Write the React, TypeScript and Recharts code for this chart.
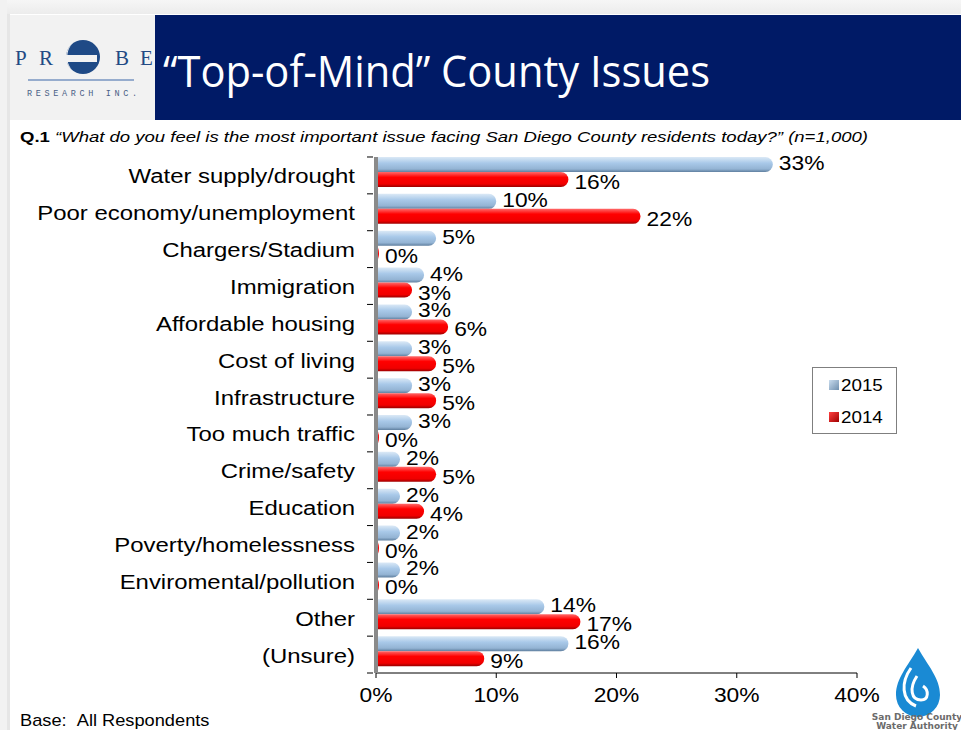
import { BarChart, Bar, XAxis, YAxis, LabelList } from "recharts";

const categories = [
  "Water supply/drought",
  "Poor economy/unemployment",
  "Chargers/Stadium",
  "Immigration",
  "Affordable housing",
  "Cost of living",
  "Infrastructure",
  "Too much traffic",
  "Crime/safety",
  "Education",
  "Poverty/homelessness",
  "Enviromental/pollution",
  "Other",
  "(Unsure)",
];
const values2015 = [33, 10, 5, 4, 3, 3, 3, 3, 2, 2, 2, 2, 14, 16];
const values2014 = [16, 22, 0, 3, 6, 5, 5, 0, 5, 4, 0, 0, 17, 9];
const xTicks = [0, 10, 20, 30, 40];

const data = categories.map((name, i) => ({
  name,
  y2015: values2015[i],
  y2014: values2014[i],
}));

const FONT = '"Liberation Sans", Arial, Helvetica, sans-serif';
const BAND = 36.86;
const DEPTH = 3;
const STRETCH = 1.14; // the slide text is drawn a bit wide

// svg text stretched horizontally around its anchor
const WideText = ({ x, y, anchor = "start", size, children, baseline = "central" }: any) => (
  <text
    transform={`translate(${x},${y}) scale(${STRETCH},1)`}
    textAnchor={anchor}
    dominantBaseline={baseline}
    fontSize={size}
    fontFamily={FONT}
    fill="#000"
  >
    {children}
  </text>
);

// cylinder-ish bar with a rounded right end, nudged up for the 3D depth
const RoundBar = (props: any) => {
  const { x, y, width, height, fill } = props;
  if (!width || width <= 0) return null;
  const top = y - DEPTH;
  const r = Math.min(height / 2, width);
  const d = `M${x},${top} H${x + width - r} A${r},${height / 2} 0 0 1 ${x + width - r},${top + height} H${x} Z`;
  return <path d={d} fill={fill} />;
};

const barLabel = (dy: number) => (props: any) => {
  const { x, y, width, height, value } = props;
  return (
    <WideText x={x + width + 6} y={y + height / 2 + dy} size={20}>
      {value}%
    </WideText>
  );
};

const CategoryTick = (props: any) => {
  const { x, y, payload, index } = props;
  const ax = x + 16;
  return (
    <g>
      <WideText x={x} y={y + 1} anchor="end" size={21}>
        {payload.value}
      </WideText>
      <line x1={ax - 4} x2={ax + 2} y1={y - BAND / 2} y2={y - BAND / 2} stroke="#000" />
      {index === categories.length - 1 && (
        <line x1={ax - 4} x2={ax + 2} y1={y + BAND / 2} y2={y + BAND / 2} stroke="#000" />
      )}
    </g>
  );
};

const PercentTick = (props: any) => {
  const { x, y, payload } = props;
  return (
    <WideText x={x} y={y + 9} anchor="middle" size={20}>
      {payload.value}%
    </WideText>
  );
};

const LegendBox = () => (
  <svg width={86} height={68} style={{ position: "absolute", left: 812, top: 367 }}>
    <rect x={0.5} y={0.5} width={84} height={66} fill="#fff" stroke="#7f7f7f" />
    <defs>
      <linearGradient id="lgBlue" x1="0" y1="0" x2="1" y2="1">
        <stop offset="0%" stopColor="#c9dcee" />
        <stop offset="100%" stopColor="#6f8fae" />
      </linearGradient>
      <linearGradient id="lgRed" x1="0" y1="0" x2="1" y2="1">
        <stop offset="0%" stopColor="#ff4040" />
        <stop offset="100%" stopColor="#a00000" />
      </linearGradient>
    </defs>
    <rect x={17} y={13} width={10} height={10} fill="url(#lgBlue)" />
    <WideText x={29} y={18} size={16.5}>2015</WideText>
    <rect x={17} y={45} width={10} height={10} fill="url(#lgRed)" />
    <WideText x={29} y={50} size={16.5}>2014</WideText>
  </svg>
);

const ProbeLogo = () => (
  <svg width={145} height={105} style={{ position: "absolute", left: 10, top: 15 }}>
    <rect width={145} height={105} fill="#f2f2f2" />
    <g fontFamily='"Liberation Serif", "DejaVu Serif", serif' fontSize={21} fill="#234a84">
      <text x={5} y={50}>P</text>
      <text x={29} y={50}>R</text>
      <text x={105} y={50}>B</text>
      <text x={130} y={50}>E</text>
    </g>
    <circle cx={73} cy={42} r={17} fill="#1f4a86" />
    <rect x={56} y={40} width={31} height={7} fill="#f2f2f2" />
    <path d="M62,29 A17,17 0 0 0 62,55 A20,20 0 0 1 62,29 Z" fill="#f2f2f2" />
    <line x1={18} y1={65} x2={124} y2={65} stroke="#3b67a8" strokeWidth={1} />
    <text
      x={17}
      y={81}
      fontFamily='"Liberation Mono", "DejaVu Sans Mono", monospace'
      fontSize={8.5}
      fill="#4a5f86"
      textLength={110}
      lengthAdjust="spacing"
    >
      RESEARCH INC.
    </text>
  </svg>
);

const WaterLogo = () => (
  <svg width={90} height={90} style={{ position: "absolute", left: 871, top: 640 }}>
    <path d="M47,8 C37,26 25,38 25,55 A22,22 0 0 0 69,55 C69,38 57,26 47,8 Z" fill="#1a8ad4" />
    <path d="M40,28 C30,42 30,60 45,66" stroke="#fff" strokeWidth={3} fill="none" />
    <path d="M46,36 C38,48 40,60 50,60 C58,60 58,50 52,46" stroke="#fff" strokeWidth={3} fill="none" />
    <text x={46} y={80} textAnchor="middle" fontFamily='"DejaVu Sans", sans-serif' fontWeight="bold" fontSize={9} fill="#6b6b6b">
      San Diego County
    </text>
    <text x={46} y={89} textAnchor="middle" fontFamily='"DejaVu Sans", sans-serif' fontWeight="bold" fontSize={9} fill="#6b6b6b">
      Water Authority
    </text>
  </svg>
);

export default function App() {
  return (
    <div
      style={{
        position: "absolute",
        left: 0,
        top: 0,
        width: 961,
        height: 730,
        overflow: "hidden",
        background: "#fff",
        fontFamily: FONT,
      }}
    >
      <div style={{ position: "absolute", left: 0, top: 0, width: 961, height: 14, background: "linear-gradient(#f6f6f6,#ececec)" }} />
      <div style={{ position: "absolute", left: 0, top: 0, width: 7, height: 730, background: "#f2f2f2" }} />
      <div style={{ position: "absolute", left: 7, top: 14, width: 3, height: 716, background: "#e6e6e6" }} />
      <ProbeLogo />
      <div style={{ position: "absolute", left: 155, top: 15, width: 806, height: 105, background: "#001a66" }}>
        <svg width={806} height={105}>
          <text
            x={8}
            y={72}
            fontFamily='"Open Sans", Lato, sans-serif'
            fontSize={44}
            fill="#fff"
            textLength={547}
            lengthAdjust="spacingAndGlyphs"
          >
            “Top-of-Mind” County Issues
          </text>
        </svg>
      </div>
      <svg width={961} height={30} style={{ position: "absolute", left: 0, top: 124 }}>
        <text x={20} y={18} fontSize={15.5} fontFamily={FONT} textLength={848} lengthAdjust="spacingAndGlyphs">
          <tspan fontWeight="bold">Q.1 </tspan>
          <tspan fontStyle="italic">“What do you feel is the most important issue facing San Diego County residents today?” (n=1,000)</tspan>
        </text>
      </svg>

      <div style={{ position: "absolute", left: 0, top: 0 }}>
        <BarChart
          width={961}
          height={730}
          data={data}
          layout="vertical"
          margin={{ top: 157, right: 104, bottom: 27, left: 6 }}
          barSize={15}
          barGap={0}
        >
          <defs>
            <linearGradient id="blueGrad" x1="0" y1="0" x2="0" y2="1">
              <stop offset="0%" stopColor="#dbe9f6" />
              <stop offset="40%" stopColor="#a9c9e9" />
              <stop offset="80%" stopColor="#94b4d4" />
              <stop offset="100%" stopColor="#5f7f9f" />
            </linearGradient>
            <linearGradient id="redGrad" x1="0" y1="0" x2="0" y2="1">
              <stop offset="0%" stopColor="#ff6a6a" />
              <stop offset="35%" stopColor="#ff0000" />
              <stop offset="80%" stopColor="#f00000" />
              <stop offset="100%" stopColor="#9a0000" />
            </linearGradient>
          </defs>
          <XAxis
            type="number"
            domain={[0, 40]}
            ticks={xTicks}
            height={30}
            axisLine={{ stroke: "#000" }}
            tickLine={{ stroke: "#000" }}
            tickSize={5}
            tickMargin={8}
            tick={<PercentTick />}
          />
          <YAxis
            type="category"
            dataKey="name"
            width={370}
            axisLine={{ stroke: "#8a8a8a", strokeWidth: 4 }}
            tickLine={false}
            tickSize={5}
            tickMargin={16}
            tick={<CategoryTick />}
            interval={0}
          />
          <Bar
            dataKey="y2015"
            name="2015"
            fill="url(#blueGrad)"
            shape={<RoundBar />}
            isAnimationActive={false}
          >
            <LabelList dataKey="y2015" content={barLabel(-4)} />
          </Bar>
          <Bar
            dataKey="y2014"
            name="2014"
            fill="url(#redGrad)"
            shape={<RoundBar />}
            minPointSize={3}
            isAnimationActive={false}
          >
            <LabelList dataKey="y2014" content={barLabel(0)} />
          </Bar>
        </BarChart>
      </div>
      <LegendBox />

      <svg width={300} height={20} style={{ position: "absolute", left: 0, top: 710 }}>
        <WideText x={20} y={16} size={16} baseline="auto">
          Base:{"\u00a0\u00a0"}All Respondents
        </WideText>
      </svg>
      <WaterLogo />
    </div>
  );
}
